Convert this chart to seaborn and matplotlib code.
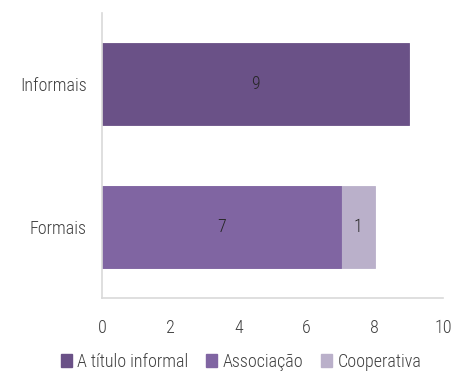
import matplotlib
matplotlib.use("Agg")
import matplotlib.pyplot as plt
from matplotlib.patches import Patch
import pandas as pd
import seaborn as sns

categories = ["Informais", "Formais"]
series = ["A título informal", "Associação", "Cooperativa"]
values = {
    "A título informal": [9, 0],
    "Associação": [0, 7],
    "Cooperativa": [0, 1],
}
colors = ["#6A5187", "#8065A2", "#BAB0CA"]
x_ticks = [0, 2, 4, 6, 8, 10]

sns.set_theme(style="white")
plt.rcParams["font.family"] = ["Roboto Condensed", "DejaVu Sans"]
plt.rcParams["font.weight"] = 300
FS = 13

rows = []
for ci, cat in enumerate(categories):
    start = 0
    for s in series:
        v = values[s][ci]
        rows.append({"cat": cat, "series": s, "value": v, "start": start, "end": start + v})
        start += v
df = pd.DataFrame(rows)

fig = plt.figure(figsize=(4.55, 3.76), dpi=100)
ax = fig.add_axes([102 / 455, 1 - 298 / 376, 341 / 455, 285 / 376])

# stacked bars: draw cumulative ends from the last series back to the first
for s, c in reversed(list(zip(series, colors))):
    sub = df[(df["series"] == s) & (df["value"] > 0)]
    sns.barplot(data=sub, x="end", y="cat", order=categories, color=c,
                width=0.575, orient="h", ax=ax, saturation=1,
                edgecolor=c, linewidth=0.6, errorbar=None)

for _, r in df[df["value"] > 0].iterrows():
    ax.text(r["start"] + r["value"] / 2, categories.index(r["cat"]), str(r["value"]),
            ha="center", va="center", fontsize=FS, color="#262626")

ax.set_xlim(0, 10)
ax.set_ylim(1.5, -0.5)
ax.set_xticks(x_ticks)
ax.set_xticklabels([str(t) for t in x_ticks])
ax.set_xlabel("")
ax.set_ylabel("")
ax.tick_params(axis="both", length=0, labelsize=FS, colors="#404040")
ax.tick_params(axis="x", pad=15)
ax.tick_params(axis="y", pad=11)
for side in ["top", "right"]:
    ax.spines[side].set_visible(False)
for side in ["left", "bottom"]:
    ax.spines[side].set_color("#D9D9D9")
    ax.spines[side].set_linewidth(1.2)

handles = [Patch(facecolor=c, edgecolor=c, label=s) for s, c in zip(series, colors)]
fig.legend(handles=handles, loc="center", bbox_to_anchor=(241 / 455, 1 - 362 / 376),
           ncol=3, frameon=False, fontsize=FS, handlelength=0.6, handleheight=0.7,
           handletextpad=0.3, columnspacing=1.0, labelcolor="#404040")

fig.savefig("out.png", dpi=100)
